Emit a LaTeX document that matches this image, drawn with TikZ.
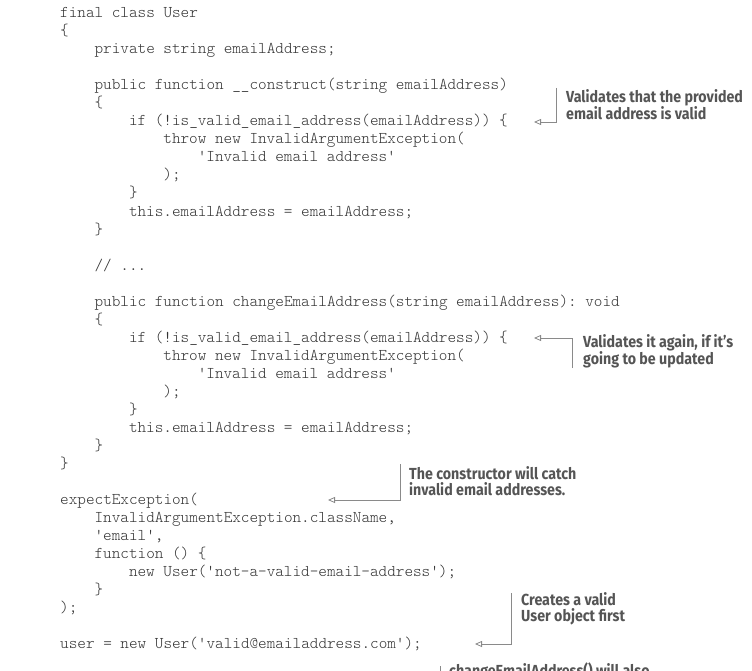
\documentclass[tikz,border=0pt]{standalone}
\usepackage{fontspec}
\setmonofont{lmmonolt10-regular.otf}
\newfontfamily\annfam[FakeStretch=0.89]{Fira Sans}
\usetikzlibrary{arrows.meta}
\definecolor{codegray}{HTML}{333333}
\definecolor{anngray}{HTML}{555555}
\definecolor{linegray}{HTML}{8A8A8A}
\tikzset{
  code/.style={anchor=base west, inner sep=0pt, text=codegray, font=\ttfamily\fontsize{16.4}{18}\selectfont},
  ann/.style={anchor=north west, inner sep=0pt, align=left, text=anngray, font=\annfam\bfseries\fontsize{16}{16.5}\selectfont},
  conn/.style={draw=linegray, line width=0.8pt, -{Triangle[open, length=7pt, width=6pt]}},
  plain/.style={draw=linegray, line width=0.8pt}
}
\begin{document}
\begin{tikzpicture}[x=1pt, y=-1pt]
\path[use as bounding box, clip] (0,0) rectangle (752,671);
\fill[white] (0,0) rectangle (752,671);
% code: line k baseline at 18 + 18(k-1); indent 34.4 per level from x=60
\node[code] (c1)  at (60,18)    {final class User};
\node[code] (c2)  at (60,36)    {\{};
\node[code] (c3)  at (94.4,54)  {private string emailAddress;};
\node[code] (c5)  at (94.4,90)  {public function \_\_construct(string emailAddress)};
\node[code] (c6)  at (94.4,108) {\{};
\node[code] (c7)  at (128.8,126){if (!is\_valid\_email\_address(emailAddress)) \{};
\node[code] (c8)  at (163.2,144){throw new InvalidArgumentException(};
\node[code] (c9)  at (197.6,162){'Invalid email address'};
\node[code] (c10) at (163.2,180){);};
\node[code] (c11) at (128.8,198){\}};
\node[code] (c12) at (128.8,216){this.emailAddress = emailAddress;};
\node[code] (c13) at (94.4,234) {\}};
\node[code] (c15) at (94.4,270) {// ...};
\node[code] (c17) at (94.4,306) {public function changeEmailAddress(string emailAddress): void};
\node[code] (c18) at (94.4,324) {\{};
\node[code] (c19) at (128.8,342){if (!is\_valid\_email\_address(emailAddress)) \{};
\node[code] (c20) at (163.2,360){throw new InvalidArgumentException(};
\node[code] (c21) at (197.6,378){'Invalid email address'};
\node[code] (c22) at (163.2,396){);};
\node[code] (c23) at (128.8,414){\}};
\node[code] (c24) at (128.8,432){this.emailAddress = emailAddress;};
\node[code] (c25) at (94.4,450) {\}};
\node[code] (c26) at (60,468)   {\}};
\node[code] (c28) at (60,504)   {expectException(};
\node[code] (c29) at (94.4,522) {InvalidArgumentException.className,};
\node[code] (c30) at (94.4,540) {'email',};
\node[code] (c31) at (94.4,558) {function () \{};
\node[code] (c32) at (128.8,576){new User('not-a-valid-email-address');};
\node[code] (c33) at (94.4,594) {\}};
\node[code] (c34) at (60,612)   {);};
\node[code] (c36) at (60,648)   {user = new User('valid@emailaddress.com');};
% annotations
\node[ann] (a1) at (566,89)  {Validates that the provided\\email address is valid};
\node[ann] (a2) at (583,334) {Validates it again, if it’s\\going to be updated};
\node[ann] (a3) at (409,466) {The constructor will catch\\invalid email addresses.};
\node[ann] (a4) at (521,592) {Creates a valid\\User object first};
\node[ann] (a5) at (449,663) {changeEmailAddress() will also};
% connector points
\coordinate (v1) at (556,88);  \coordinate (k1) at (556,122); \coordinate (t1) at (534,122);
\coordinate (v2) at (572,368); \coordinate (k2) at (572,338); \coordinate (t2) at (534,338);
\coordinate (v3) at (400,464); \coordinate (k3) at (400,500); \coordinate (t3) at (328,500);
\coordinate (v4) at (511,593); \coordinate (k4) at (511,644); \coordinate (t4) at (475,644);
\coordinate (v5) at (440,666); \coordinate (k5) at (440,680);
\draw[conn] (v1) -- (k1) -- (t1);
\draw[conn] (v2) -- (k2) -- (t2);
\draw[conn] (v3) -- (k3) -- (t3);
\draw[conn] (v4) -- (k4) -- (t4);
\draw[plain] (v5) -- (k5);
\end{tikzpicture}
\end{document}
